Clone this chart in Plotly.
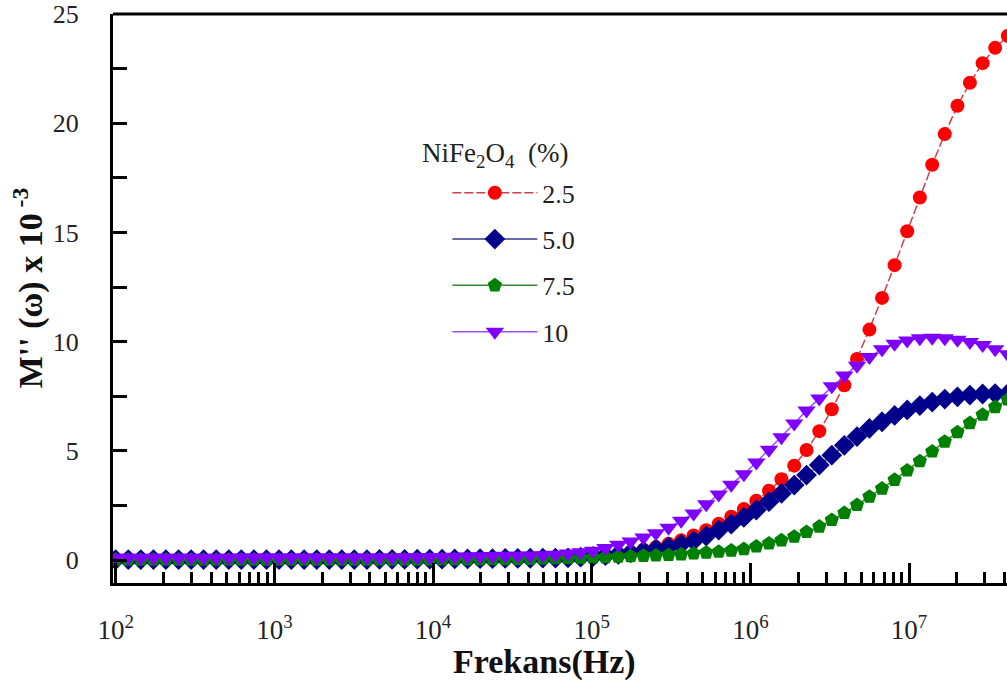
import plotly.graph_objects as go

# Measurement frequencies (Hz)
freq_hz = [
    100, 120, 144, 173, 207, 249, 299, 358, 430, 516,
    619, 743, 892, 1070, 1280, 1540, 1850, 2220, 2660, 3190,
    3830, 4600, 5520, 6620, 7950, 9540, 11400, 13700, 16500, 19800,
    23700, 28500, 34200, 41000, 49200, 59100, 70900, 85100, 102000, 122000,
    147000, 176000, 212000, 254000, 305000, 366000, 439000, 527000, 632000, 758000,
    910000, 1.09e6, 1.31e6, 1.57e6, 1.89e6, 2.26e6, 2.72e6, 3.26e6, 3.91e6, 4.70e6,
    5.63e6, 6.76e6, 8.11e6, 9.74e6, 1.17e7, 1.40e7, 1.68e7, 2.02e7, 2.42e7, 2.91e7,
    3.49e7, 4.19e7,
]

# M'' x 10^-3 for each NiFe2O4 content
m2_25 = [
    0.02, 0.02, 0.02, 0.02, 0.02, 0.02, 0.02, 0.02, 0.02, 0.02,
    0.02, 0.02, 0.02, 0.02, 0.02, 0.02, 0.02, 0.02, 0.02, 0.02,
    0.02, 0.03, 0.03, 0.03, 0.04, 0.04, 0.04, 0.05, 0.05, 0.06,
    0.06, 0.07, 0.08, 0.09, 0.10, 0.11, 0.13, 0.15, 0.18, 0.23,
    0.29, 0.37, 0.47, 0.59, 0.74, 0.90, 1.12, 1.36, 1.66, 1.98,
    2.33, 2.71, 3.17, 3.70, 4.32, 5.04, 5.90, 6.90, 8.00, 9.20,
    10.55, 12.00, 13.50, 15.05, 16.60, 18.10, 19.50, 20.80, 21.85, 22.75,
    23.45, 24.00,
]
m2_50 = [
    0.02, 0.02, 0.02, 0.02, 0.02, 0.02, 0.02, 0.02, 0.02, 0.02,
    0.02, 0.02, 0.02, 0.02, 0.02, 0.02, 0.02, 0.02, 0.02, 0.02,
    0.02, 0.03, 0.03, 0.03, 0.04, 0.04, 0.04, 0.05, 0.05, 0.06,
    0.06, 0.07, 0.07, 0.08, 0.09, 0.09, 0.10, 0.13, 0.16, 0.20,
    0.26, 0.33, 0.41, 0.50, 0.60, 0.72, 0.87, 1.10, 1.37, 1.64,
    1.95, 2.29, 2.67, 3.05, 3.43, 3.89, 4.35, 4.80, 5.25, 5.65,
    6.03, 6.33, 6.62, 6.87, 7.07, 7.23, 7.37, 7.47, 7.55, 7.60,
    7.62, 7.62,
]
m2_75 = [
    0.01, 0.01, 0.01, 0.01, 0.01, 0.01, 0.01, 0.01, 0.01, 0.01,
    0.01, 0.01, 0.01, 0.01, 0.01, 0.01, 0.01, 0.01, 0.01, 0.02,
    0.02, 0.02, 0.02, 0.02, 0.02, 0.02, 0.03, 0.03, 0.03, 0.03,
    0.04, 0.04, 0.05, 0.05, 0.06, 0.08, 0.09, 0.10, 0.12, 0.13,
    0.15, 0.17, 0.19, 0.21, 0.23, 0.26, 0.30, 0.34, 0.38, 0.43,
    0.50, 0.62, 0.76, 0.90, 1.07, 1.28, 1.53, 1.83, 2.15, 2.52,
    2.90, 3.27, 3.67, 4.10, 4.52, 4.97, 5.42, 5.85, 6.27, 6.65,
    7.00, 7.35,
]
m2_10 = [
    0.10, 0.10, 0.10, 0.10, 0.10, 0.10, 0.10, 0.10, 0.10, 0.10,
    0.11, 0.11, 0.11, 0.11, 0.11, 0.11, 0.11, 0.12, 0.12, 0.12,
    0.12, 0.12, 0.12, 0.13, 0.13, 0.14, 0.14, 0.15, 0.16, 0.17,
    0.18, 0.19, 0.20, 0.21, 0.22, 0.24, 0.30, 0.35, 0.42, 0.55,
    0.70, 0.85, 1.03, 1.22, 1.48, 1.80, 2.13, 2.55, 3.00, 3.45,
    3.93, 4.47, 5.05, 5.62, 6.25, 6.85, 7.40, 7.95, 8.45, 8.90,
    9.30, 9.65, 9.90, 10.05, 10.15, 10.18, 10.15, 10.08, 9.98, 9.84,
    9.65, 9.42,
]

x_tick_exp = [2, 3, 4, 5, 6, 7]
y_tick_vals = [0, 5, 10, 15, 20, 25]

FONT = "Liberation Serif, Times New Roman, serif"

series = [
    ("2.5", m2_25, "#ff0000", "#d0404a", "circle", 14, "9px,3px"),
    ("5.0", m2_50, "#00008b", "#3a3a8c", "diamond", 16, "solid"),
    ("7.5", m2_75, "#008000", "#2e8b2e", "pentagon", 15, "solid"),
    ("10", m2_10, "#8000ff", "#9a50ff", "triangle-down", 16, "solid"),
]

fig = go.Figure()
for i, (name, vals, mcol, lcol, sym, size, dash) in enumerate(series):
    fig.add_trace(go.Scatter(
        x=freq_hz, y=vals, name=name, mode="lines+markers",
        legendgroup=f"g{i}",
        line=dict(color=lcol, width=1.5, dash=dash),
        marker=dict(symbol=sym, size=size, color=mcol, line=dict(width=0)),
    ))

fig.update_xaxes(
    type="log", range=[1.983, 7.6175],
    tickvals=[10 ** e for e in x_tick_exp],
    ticktext=[f"10<sup>{e}</sup>" for e in x_tick_exp],
    ticks="inside", ticklen=20, tickwidth=2.5, tickcolor="black",
    minor=dict(ticks="inside", ticklen=11, tickwidth=2.5, tickcolor="black", dtick="D1"),
    showline=True, linecolor="black", linewidth=3,
    showgrid=False, zeroline=False,
    tickfont=dict(family=FONT, size=27, color="#222"),
    ticklabelstandoff=21,
)
fig.update_yaxes(
    range=[-1.053, 25],
    tickvals=y_tick_vals,
    ticks="inside", ticklen=14, tickwidth=2.5, tickcolor="black",
    minor=dict(ticks="inside", ticklen=14, tickwidth=2.5, tickcolor="black", dtick=2.5),
    showline=True, linecolor="black", linewidth=3,
    showgrid=False, zeroline=False,
    tickfont=dict(family=FONT, size=26, color="#222"),
    ticklabelstandoff=26,
)

# top frame line
fig.add_shape(type="line", xref="paper", yref="paper", x0=0, x1=1, y0=1, y1=1,
              line=dict(color="black", width=3))

fig.add_annotation(
    text="<b>Frekans(Hz)</b>", xref="paper", yref="paper",
    x=0.483, y=-0.138, xanchor="center", yanchor="middle", showarrow=False,
    font=dict(family=FONT, size=34, color="#111"),
)
fig.add_annotation(
    text="<b>M'' (ω) x 10<sup> -3</sup></b>", xref="paper", yref="paper",
    x=-0.095, y=0.518, xanchor="center", yanchor="middle", textangle=-90,
    showarrow=False, font=dict(family=FONT, size=34, color="#111"),
)
fig.add_annotation(
    text="NiFe<sub>2</sub>O<sub>4</sub>  (%)", xref="paper", yref="paper",
    x=0.343, y=0.752, xanchor="left", yanchor="middle", showarrow=False,
    font=dict(family=FONT, size=27, color="#222"),
)

fig.update_layout(
    width=1007, height=686,
    margin=dict(l=113, r=0, t=14, b=103),
    plot_bgcolor="white", paper_bgcolor="white",
    showlegend=True,
    legend=dict(
        x=0.374, y=0.727, xanchor="left", yanchor="top",
        font=dict(family=FONT, size=26, color="#222"),
        itemwidth=85, tracegroupgap=9.5, bgcolor="rgba(0,0,0,0)",
    ),
)

fig.write_html("out.html")
